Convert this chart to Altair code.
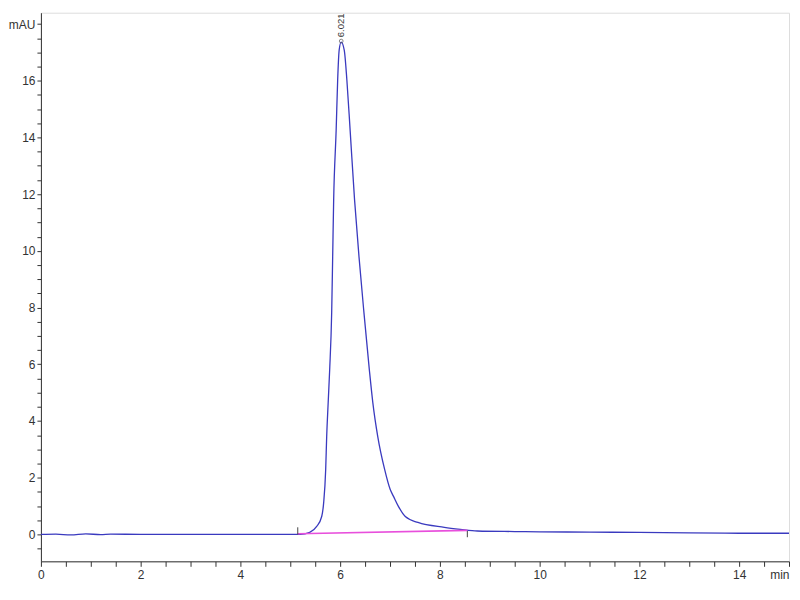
import altair as alt
import pandas as pd

# Chromatogram trace (min, mAU)
times = [0.0, 0.3, 0.6, 0.9, 1.2, 1.4, 2.0, 3.0, 4.0, 5.0, 5.2, 5.39, 5.53, 5.63, 5.67, 5.71, 5.73, 5.76,
         5.79, 5.83, 5.85, 5.87, 5.92, 5.95, 5.98, 6.02, 6.082, 6.135, 6.2, 6.289, 6.378, 6.477,
         6.585, 6.655, 6.754, 6.892, 7.004, 7.07, 7.168, 7.306, 7.56, 8.09, 8.41, 8.75, 9.5,
         10.0, 11.0, 12.0, 13.0, 14.0, 15.0]
signal = [0.0, 0.01, -0.02, 0.02, -0.01, 0.01, 0.0, 0.0, 0.0, 0.0, 0.0, 0.07, 0.28, 0.63, 1.13, 2.29, 3.45, 4.65,
          5.81, 7.82, 9.79, 11.8, 14.26, 16.02, 17.08, 17.36, 17.08, 16.02, 14.26, 11.8, 9.79, 7.82,
          5.81, 4.65, 3.45, 2.29, 1.58, 1.34, 0.99, 0.63, 0.42, 0.25, 0.18, 0.12, 0.1,
          0.09, 0.08, 0.07, 0.05, 0.04, 0.04]

# Integration baseline
base_t = [5.15, 8.55]
base_v = [0.02, 0.14]

# Integration markers (start / end)
mark_t = [5.15, 8.55]
mark_lo = [0.0, -0.1]
mark_hi = [0.25, 0.12]

peak_t = [6.021]
peak_marker_v = [17.4]
peak_label_v = [17.5]
peak_label = ["6.021"]

x_ticks = [i * 0.5 for i in range(31)]
y_ticks = [i * 0.5 for i in range(-1, 37)]

trace = pd.DataFrame({"t": times, "v": signal})
base = pd.DataFrame({"t": base_t, "v": base_v})
marks = pd.DataFrame({"t": mark_t, "lo": mark_lo, "hi": mark_hi})
peak = pd.DataFrame({"t": peak_t, "vm": peak_marker_v, "vl": peak_label_v, "label": peak_label})

FONT = "Liberation Sans"
AX = "#333333"

x_enc = alt.X(
    "t:Q",
    scale=alt.Scale(domain=[0, 15], nice=False, zero=False),
    axis=alt.Axis(
        values=x_ticks,
        tickCount=200,
        title=None,
        grid=False,
        labelExpr="datum.value == 15 ? 'min' : (datum.value % 2 == 0 ? format(datum.value, 'd') : '')",
        labelAlign={"condition": {"test": "datum.value == 15", "value": "right"}, "value": "center"},
        labelFlush=False,
        labelOverlap=False,
        tickSize=5,
        labelPadding=3,
        domainColor=AX,
        tickColor=AX,
        labelColor=AX,
        labelFont=FONT,
        labelFontSize=12,
    ),
)
y_enc = alt.Y(
    "v:Q",
    scale=alt.Scale(domain=[-0.95, 18.4], nice=False, zero=False),
    axis=alt.Axis(
        values=y_ticks,
        tickCount=200,
        title=None,
        grid=False,
        labelExpr="datum.value == 18 ? 'mAU' : (datum.value % 2 == 0 ? format(datum.value, 'd') : '')",
        labelFlush=False,
        labelOverlap=False,
        tickSize=4,
        labelPadding=2,
        domainColor=AX,
        tickColor=AX,
        labelColor=AX,
        labelFont=FONT,
        labelFontSize=12,
    ),
)

line = alt.Chart(trace).mark_line(color="#3a3abf", strokeWidth=1.3, interpolate="monotone").encode(x=x_enc, y=y_enc)
baseline = alt.Chart(base).mark_line(color="#e84fdc", strokeWidth=1.6).encode(x="t:Q", y="v:Q")
ticks = alt.Chart(marks).mark_rule(color="#444444", strokeWidth=1).encode(x="t:Q", y="lo:Q", y2="hi:Q")
apex = alt.Chart(peak).mark_point(shape="circle", size=14, color="#555555", strokeWidth=1).encode(x="t:Q", y="vm:Q")
label = alt.Chart(peak).mark_text(angle=270, align="left", baseline="middle", dx=1, fontSize=9.5,
                                   font=FONT, color="#333333").encode(x="t:Q", y="vl:Q", text="label:N")

chart = alt.layer(line, baseline, ticks, apex, label).properties(
    width=750, height=550, padding={"left": 0, "top": 4, "right": 0, "bottom": 0}
).configure_view(stroke=None).configure(background="white")

chart.save("out.html", embed_options={"renderer": "svg", "actions": False})
